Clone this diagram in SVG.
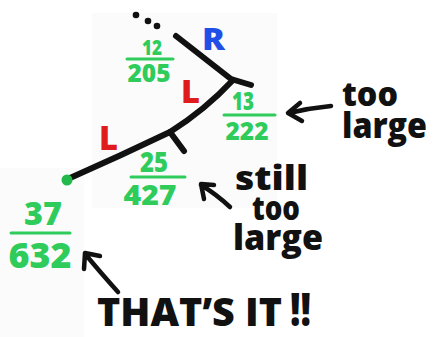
<svg xmlns="http://www.w3.org/2000/svg" width="433" height="337" viewBox="0 0 433 337">
<style>
.bg{fill:#fbfbfc}
.ln{fill:none;stroke:#111;stroke-width:6;stroke-linecap:round;stroke-linejoin:round}
.ar{fill:none;stroke:#111;stroke-width:4.5;stroke-linecap:round;stroke-linejoin:round}
.fr{font-family:"Open Sans","DejaVu Sans",sans-serif;font-weight:800;fill:#2fcc5c;text-anchor:middle}
.bar{stroke:#2fcc5c;stroke-width:3;stroke-linecap:round}
.hw{font-family:"Open Sans","DejaVu Sans",sans-serif;font-weight:800;fill:#111}
.lab{font-family:"Open Sans","DejaVu Sans",sans-serif;font-weight:800}
</style>
<rect width="433" height="337" fill="#fff"/>
<rect class="bg" x="92" y="13" width="185" height="195"/>
<rect class="bg" x="0" y="168" width="84" height="169"/>
<g id="connectors">
<path class="ln" d="M70,178 Q120,156 170,132 Q205,110 233,80"/>
<path class="ln" d="M170,132 L184,151"/>
<path class="ln" d="M176,36 L231,79 L251,85"/>
<circle cx="136" cy="15" r="3.3" fill="#111"/>
<circle cx="148" cy="21" r="3.3" fill="#111"/>
<circle cx="157" cy="26" r="3.3" fill="#111"/>
<path class="ar" d="M331,106 Q310,108 289,113 M300,103 L288,113 L302,121"/>
<path class="ar" d="M230,207 Q216,194 201,185 M214,185 L201,184 L204,199"/>
<path class="ar" d="M118,292 Q100,272 86,255 M100,256 L85,253 L84,269"/>
</g>
<g id="root">
<circle cx="67" cy="180" r="5.5" fill="#22b84a"/>
<text class="fr" x="43" y="225" font-size="31" textLength="38" lengthAdjust="spacingAndGlyphs">37</text>
<line class="bar" x1="11" y1="233" x2="70" y2="233"/>
<text class="fr" x="40" y="268" font-size="35" textLength="63" lengthAdjust="spacingAndGlyphs">632</text>
</g>
<g id="n25">
<text class="fr" x="154" y="172" font-size="28" textLength="28" lengthAdjust="spacingAndGlyphs">25</text>
<line class="bar" x1="131" y1="177" x2="185" y2="177"/>
<text class="fr" x="150" y="205" font-size="28" textLength="53" lengthAdjust="spacingAndGlyphs">427</text>
</g>
<g id="n13">
<text class="fr" x="243" y="110" font-size="24" textLength="22" lengthAdjust="spacingAndGlyphs">13</text>
<line class="bar" x1="224" y1="115" x2="275" y2="115"/>
<text class="fr" x="247" y="140" font-size="24" textLength="43" lengthAdjust="spacingAndGlyphs">222</text>
</g>
<g id="n12">
<text class="fr" x="152" y="55" font-size="21" textLength="20" lengthAdjust="spacingAndGlyphs">12</text>
<line class="bar" x1="127" y1="59" x2="173" y2="59"/>
<text class="fr" x="149" y="82" font-size="24" textLength="43" lengthAdjust="spacingAndGlyphs">205</text>
</g>
<g id="labels">
<text class="lab" x="202" y="50" font-size="30" fill="#1f4fe6" textLength="23" lengthAdjust="spacingAndGlyphs">R</text>
<text class="lab" x="181" y="103" font-size="31" fill="#e01b1b" textLength="19" lengthAdjust="spacingAndGlyphs">L</text>
<text class="lab" x="99" y="150" font-size="33" fill="#e01b1b" textLength="19" lengthAdjust="spacingAndGlyphs">L</text>
</g>
<g id="notes">
<text class="hw" x="342" y="106" font-size="34" textLength="56" lengthAdjust="spacingAndGlyphs">too</text>
<text class="hw" x="342" y="138" font-size="36" textLength="85" lengthAdjust="spacingAndGlyphs">large</text>
<text class="hw" x="235" y="190" font-size="34" textLength="73" lengthAdjust="spacingAndGlyphs">still</text>
<text class="hw" x="252" y="220" font-size="33" textLength="48" lengthAdjust="spacingAndGlyphs">too</text>
<text class="hw" x="233" y="250" font-size="36" textLength="90" lengthAdjust="spacingAndGlyphs">large</text>
<text class="hw" x="97" y="326" font-size="39" textLength="185" lengthAdjust="spacingAndGlyphs">THAT’S IT</text>
<text class="hw" x="290" y="326" font-size="46" textLength="21" lengthAdjust="spacingAndGlyphs">!!</text>
</g>
</svg>
